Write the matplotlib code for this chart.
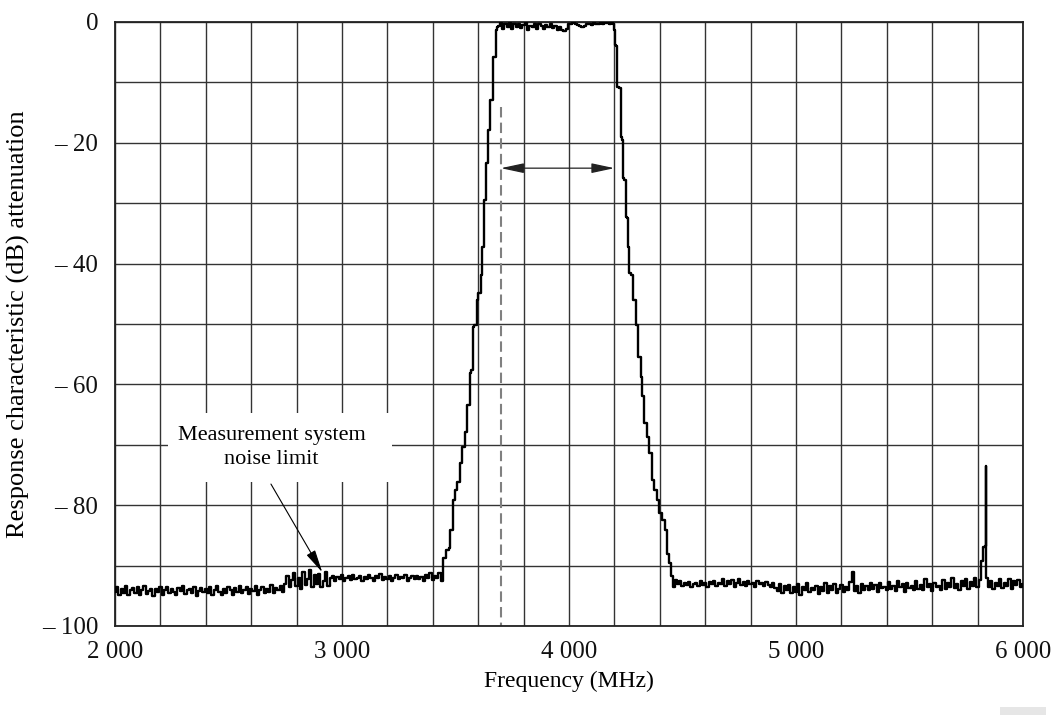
import numpy as np
import matplotlib
matplotlib.use("Agg")
import matplotlib.pyplot as plt
from matplotlib.patches import Rectangle

# ---------------- data ----------------
# noise floor below the passband, 2000..3440 MHz every 10 MHz
left_noise_freq = np.arange(2000, 3441, 10)
left_noise_db = [
    -94.3, -93.6, -94.8, -93.9, -94.5, -93.4, -94.9, -94.1, -93.7, -94.6,
    -93.5, -94.8, -94.0, -93.3, -94.7, -94.2, -93.8, -95.0, -93.9, -94.4,
    -93.6, -94.9, -94.1, -93.5, -94.6, -93.9, -94.3, -94.8, -93.7, -94.2,
    -93.4, -94.7, -94.0, -93.8, -94.5, -93.6, -95.1, -94.2, -93.7, -94.4,
    -93.9, -94.6, -93.5, -94.8, -94.0, -93.4, -94.3, -94.9, -93.8, -94.5,
    -93.6, -94.1, -94.8, -93.7, -94.4, -93.3, -94.6, -94.0, -93.5, -94.7,
    -93.9, -94.2, -93.4, -94.9, -94.1, -93.6, -94.5, -93.8, -94.3, -93.2,
    -94.6, -93.7, -94.0, -93.3, -94.4,
    -93.0, -91.8, -93.6, -92.4, -91.2, -93.4, -92.0, -93.8, -91.0, -93.2,
    -92.2, -90.8, -93.5, -91.6, -93.1, -91.4, -93.6, -92.5, -91.1, -93.3,
    -92.1, -91.7, -92.5, -91.9, -92.3, -91.6, -92.6, -92.0, -91.8, -92.4,
    -91.5, -92.2, -92.0, -91.7, -92.5, -91.9, -92.3, -91.6, -92.1, -92.6,
    -91.8, -92.0, -91.4, -92.4, -91.9, -92.2, -91.7, -92.5, -92.0, -91.6,
    -92.3, -91.9, -92.1, -91.5, -92.6, -92.0, -91.8, -92.3, -91.7, -92.2,
    -91.9, -92.5, -91.6, -92.1, -91.3, -92.4, -91.8, -92.0, -91.2, -92.5,
]

# rising filter skirt
rise_freq = [3446, 3446, 3468, 3476, 3476, 3487, 3487, 3505, 3512, 3520,
             3523, 3534, 3546, 3552, 3561, 3564, 3576, 3579, 3586, 3600,
             3602, 3611, 3611, 3624, 3626, 3641, 3643, 3652, 3654, 3664,
             3666, 3678, 3680, 3687]
rise_db = [-92.4, -88.7, -87.4, -87.1, -84.1, -84.1, -79.1, -77.5, -76.2, -76.2,
           -73.0, -70.4, -67.9, -63.4, -63.4, -58.1, -57.6, -50.5, -50.2, -46.0,
           -44.9, -44.9, -41.9, -37.3, -29.5, -23.3, -17.9, -17.9, -12.9, -12.9,
           -5.8, -5.8, -1.3, -0.8]

# passband, 3690..4190 MHz every 10 MHz
pass_freq = np.arange(3690, 4191, 10)
pass_db = [
    -0.6, -0.2, -1.1, -0.3, -0.9, -0.2, -1.2, -0.4, -0.8, -0.3,
    -1.0, -0.5, -0.2, -1.3, -0.6, -0.9, -0.3, -1.1, -0.4, -0.7,
    -1.2, -0.5, -0.9, -0.3, -1.0, -0.6, -1.4, -0.8, -1.3, -1.5,
    -1.1, -0.3, -0.4, -0.2, -0.3, -0.5, -0.7, -0.9, -0.6, -0.4,
    -0.3, -0.5, -0.2, -0.4, -0.3, -0.2, -0.3, -0.1, -0.2, -0.3, -0.2,
]

# falling filter skirt
fall_freq = [4197, 4203, 4203, 4213, 4213, 4226, 4228, 4235, 4237, 4250,
             4252, 4258, 4260, 4273, 4275, 4291, 4295, 4310, 4320, 4325,
             4335, 4349, 4360, 4371, 4382, 4393, 4401, 4415, 4427, 4437,
             4448, 4455, 4463, 4471]
fall_db = [-0.4, -1.3, -3.8, -4.0, -10.8, -10.9, -19.0, -19.5, -25.8, -26.2,
           -32.3, -32.5, -37.3, -41.6, -41.9, -46.0, -50.2, -55.4, -58.7, -62.0,
           -66.4, -68.7, -71.4, -75.8, -77.5, -79.1, -81.3, -82.5, -84.1, -88.0,
           -89.6, -91.8, -93.5, -92.4]

# noise floor above the passband, 4480..6000 MHz every 10 MHz
right_noise_freq = np.arange(4480, 6001, 10)
right_noise_db = [
    -93.1, -92.6, -93.4, -92.9, -93.2, -92.7, -93.5, -93.0, -92.8, -93.3,
    -92.6, -93.2, -92.9, -93.5, -92.7, -93.1, -92.5, -93.4, -92.8, -93.0,
    -92.3, -93.3, -92.6, -93.1, -92.4, -93.5, -92.9, -92.2, -93.2, -92.7,
    -93.4, -92.5, -93.0, -92.8, -93.6, -92.6, -93.1, -92.9, -93.4, -92.7,
    -93.2, -93.5, -92.8,
    -93.7, -94.2, -93.1, -94.5, -93.4, -94.0, -93.2, -94.6, -93.6, -94.3,
    -93.0, -94.8, -93.5, -94.1, -92.9, -94.4, -93.7, -94.0, -93.3, -94.7,
    -93.6, -94.2, -92.8, -94.5, -93.4, -94.1, -93.0, -94.6, -93.8, -93.2,
    -94.3, -93.5, -94.0, -92.7, -91.0, -94.2, -93.4, -94.5, -93.1, -94.0,
    -93.3, -94.1, -92.8, -93.9, -93.2, -94.4, -92.9, -93.7, -93.5, -94.0,
    -92.7, -93.8, -93.3, -94.2, -92.6, -93.6, -93.1, -94.3, -92.9, -93.7,
    -93.4, -94.0, -92.5, -93.9, -93.2, -94.1, -92.3, -93.5, -93.0, -94.2,
    -92.8, -93.6, -93.3, -94.0, -92.4, -93.8, -92.9, -93.5, -92.1, -93.7,
    -93.0, -94.1, -92.6, -93.4, -92.2, -93.8, -92.7, -93.3, -92.0, -93.6,
    -92.4,
    -89.2, -87.0, -92.0, -93.6, -92.5, -93.9, -92.8, -93.3, -92.2, -93.7,
    -92.9, -93.4, -92.3, -93.8, -92.6, -93.2, -92.4, -93.6, -93.0,
]

# spurious spike near 5835 MHz
spike_freq = [5834, 5836, 5838]
spike_db = [-86.8, -73.5, -91.5]

# annotations
band_start = 3700
band_end = 4200
band_marker_top = -14
arrow_level = -24.2
note_text = "Measurement system\nnoise limit"
note_center = (2690, -70.5)
note_tail = (2687, -76.5)
note_head = (2913, -91.1)
note_box_x = (2233, 3220)
note_box_y = (-76.2, -64.7)

x_ticks = [2000, 3000, 4000, 5000, 6000]
x_tick_labels = ["2 000", "3 000", "4 000", "5 000", "6 000"]
y_ticks = [0, -20, -40, -60, -80, -100]
y_tick_labels = ["0", "\u2013 20", "\u2013 40", "\u2013 60", "\u2013 80", "\u2013 100"]

# ---------------- plot ----------------
plt.rcParams['font.family'] = ['Liberation Serif', 'DejaVu Serif']

freq = np.concatenate([left_noise_freq, rise_freq, pass_freq, fall_freq,
                       right_noise_freq, spike_freq]).astype(float)
db = np.concatenate([left_noise_db, rise_db, pass_db, fall_db,
                     right_noise_db, spike_db]).astype(float)
order = np.argsort(freq, kind='stable')
freq, db = freq[order], db[order]

fig = plt.figure(figsize=(10.54, 7.15), dpi=100)
ax = fig.add_axes([115 / 1054, 89 / 715, 908 / 1054, 604 / 715])

ax.set_xlim(2000, 6000)
ax.set_ylim(-100, 0)

ax.set_xticks(x_ticks)
ax.set_xticklabels(x_tick_labels)
ax.set_xticks(np.arange(2000, 6001, 200), minor=True)
ax.set_yticks(y_ticks)
ax.set_yticklabels(y_tick_labels)
ax.set_yticks(np.arange(-100, 1, 10), minor=True)
ax.tick_params(which='both', length=0, labelsize=18, colors='#111111')
ax.tick_params(axis='x', pad=11)
ax.tick_params(axis='y', pad=12)

ax.grid(which='both', color='#333333', linewidth=1.0, zorder=0)
for s in ax.spines.values():
    s.set_color('#222222')
    s.set_linewidth(1.3)

ax.plot(freq, db, color='black', linewidth=1.7, drawstyle='steps-mid', zorder=3)

# band marker
ax.plot([band_start, band_start], [band_marker_top, -100], color='#808080',
        linewidth=1.5, linestyle=(0, (5, 2.5)), zorder=2)
ax.annotate('', xy=(band_start, arrow_level), xytext=(band_end, arrow_level),
            arrowprops=dict(arrowstyle='<|-|>,head_length=1.4,head_width=0.3',
                            color='#222222', lw=0.9, shrinkA=0, shrinkB=0,
                            mutation_scale=10), zorder=4)

# noise limit note
ax.add_patch(Rectangle((note_box_x[0], note_box_y[0]),
                       note_box_x[1] - note_box_x[0], note_box_y[1] - note_box_y[0],
                       facecolor='white', edgecolor='none', zorder=2.5))
ax.text(note_center[0], note_center[1], note_text, ha='center', va='center',
        fontsize=16, linespacing=1.35, zorder=5)
ax.annotate('', xy=note_head, xytext=note_tail,
            arrowprops=dict(arrowstyle='-|>,head_length=1.4,head_width=0.3',
                            color='black', lw=0.8, shrinkA=0, shrinkB=0,
                            mutation_scale=10), zorder=5)

ax.set_xlabel("Frequency (MHz)", fontsize=17)
ax.xaxis.set_label_coords(0.5, -0.091)
ax.xaxis.label.set_verticalalignment('center')
ax.set_ylabel("Response characteristic (dB) attenuation", fontsize=19)
ax.yaxis.set_label_coords(-97 / 908, 0.5)
ax.yaxis.label.set_verticalalignment('center')

fig.add_artist(Rectangle((1000 / 1054, 0), 46 / 1054, 8 / 715,
                         transform=fig.transFigure, facecolor='#e6e6e6',
                         edgecolor='none'))

fig.savefig('out.png', dpi=100, facecolor='white')
